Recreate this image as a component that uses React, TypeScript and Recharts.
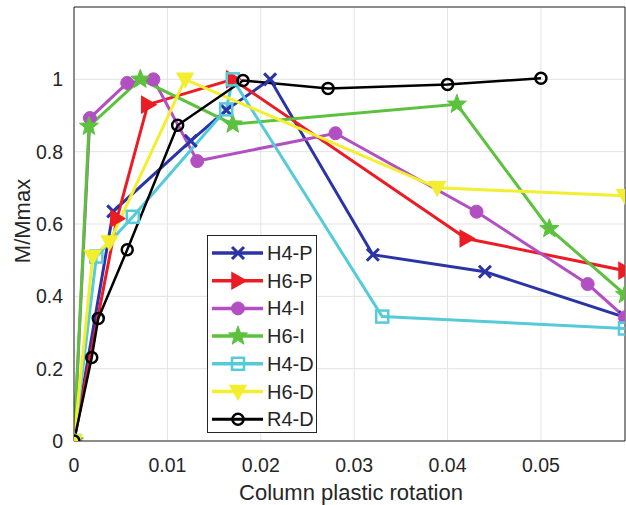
import React from "react";
import {
  CartesianGrid,
  Line,
  LineChart,
  ReferenceLine,
  XAxis,
  YAxis
} from "recharts";

// values
const h4pX = [0, 0.0042, 0.0125, 0.0163, 0.021, 0.032, 0.044, 0.059];
const h4pY = [0, 0.635, 0.83, 0.915, 1.0, 0.515, 0.468, 0.342];

const h6pX = [0, 0.0046, 0.0079, 0.017, 0.042, 0.059];
const h6pY = [0, 0.615, 0.93, 1.0, 0.56, 0.471];

const h4iX = [0, 0.0017, 0.0057, 0.0085, 0.0132, 0.028, 0.0431, 0.055, 0.059];
const h4iY = [0, 0.893, 0.99, 1.0, 0.774, 0.851, 0.634, 0.434, 0.342];

const h6iX = [0, 0.0016, 0.0071, 0.017, 0.041, 0.0509, 0.059];
const h6iY = [0, 0.87, 1.0, 0.876, 0.931, 0.587, 0.405];

const h4dX = [0, 0.0024, 0.0063, 0.0163, 0.017, 0.033, 0.059];
const h4dY = [0, 0.51, 0.62, 0.917, 1.0, 0.344, 0.311];

const h6dX = [0, 0.002, 0.0038, 0.0119, 0.0389, 0.059];
const h6dY = [0, 0.51, 0.55, 1.0, 0.7, 0.678];

const r4dX = [0, 0.0019, 0.0026, 0.0057, 0.0111, 0.0181, 0.0272, 0.04, 0.05];
const r4dY = [0, 0.231, 0.339, 0.529, 0.873, 0.997, 0.975, 0.986, 1.003];

const xTicks = [0, 0.01, 0.02, 0.03, 0.04, 0.05];
const yTicks = [0, 0.2, 0.4, 0.6, 0.8, 1];

type Kind = "x" | "tri-right" | "circle" | "star" | "square" | "tri-down" | "ocircle";

const series: { name: string; xs: number[]; ys: number[]; color: string; kind: Kind; width: number }[] = [
  { name: "H4-P", xs: h4pX, ys: h4pY, color: "#2b34a6", kind: "x", width: 3 },
  { name: "H6-P", xs: h6pX, ys: h6pY, color: "#ec1c24", kind: "tri-right", width: 3 },
  { name: "H4-I", xs: h4iX, ys: h4iY, color: "#b24fc2", kind: "circle", width: 3 },
  { name: "H6-I", xs: h6iX, ys: h6iY, color: "#5cc23e", kind: "star", width: 3 },
  { name: "H4-D", xs: h4dX, ys: h4dY, color: "#55cbd8", kind: "square", width: 3 },
  { name: "H6-D", xs: h6dX, ys: h6dY, color: "#f3ee2e", kind: "tri-down", width: 3 },
  { name: "R4-D", xs: r4dX, ys: r4dY, color: "#000000", kind: "ocircle", width: 2.5 }
];

const FONT = "'Liberation Sans', Arial, sans-serif";

function starPath(cx: number, cy: number, R: number, r: number) {
  let d = "";
  for (let i = 0; i < 10; i++) {
    const a = -Math.PI / 2 + (i * Math.PI) / 5;
    const rad = i % 2 === 0 ? R : r;
    d += (i === 0 ? "M" : "L") + (cx + rad * Math.cos(a)).toFixed(2) + "," + (cy + rad * Math.sin(a)).toFixed(2);
  }
  return d + "Z";
}

function Marker({ cx, cy, kind, color }: { cx: number; cy: number; kind: Kind; color: string }) {
  switch (kind) {
    case "x":
      return (
        <path d={`M${cx - 6},${cy - 6}L${cx + 6},${cy + 6}M${cx - 6},${cy + 6}L${cx + 6},${cy - 6}`} stroke={color} strokeWidth={3} />
      );
    case "tri-right":
      return <path d={`M${cx + 8},${cy}L${cx - 6},${cy - 8}L${cx - 6},${cy + 8}Z`} fill={color} stroke={color} strokeWidth={1.5} />;
    case "circle":
      return <circle cx={cx} cy={cy} r={6.5} fill={color} stroke={color} />;
    case "star":
      return <path d={starPath(cx, cy, 10, 4.2)} fill={color} stroke={color} strokeWidth={1} />;
    case "square":
      return <rect x={cx - 6} y={cy - 6} width={12} height={12} fill="none" stroke={color} strokeWidth={2.5} />;
    case "tri-down":
      return <path d={`M${cx},${cy + 8}L${cx - 8},${cy - 6}L${cx + 8},${cy - 6}Z`} fill={color} stroke={color} strokeWidth={1.5} />;
    case "ocircle":
      return <circle cx={cx} cy={cy} r={5.5} fill="none" stroke={color} strokeWidth={2.5} />;
  }
}

function makeDot(kind: Kind, color: string) {
  return (props: any) => {
    const { cx, cy, index } = props;
    if (cx == null || cy == null) return <g key={index} />;
    return (
      <g key={index}>
        <Marker cx={cx} cy={cy} kind={kind} color={color} />
      </g>
    );
  };
}

function Legend() {
  return (
    <div
      style={{
        position: "absolute",
        left: 207,
        top: 235,
        width: 110,
        height: 198,
        border: "1px solid #262626",
        background: "#fff",
        boxSizing: "border-box"
      }}
    >
      <svg width={108} height={196}>
        {series.map((s, i) => {
          const y = 17 + i * 27.7;
          return (
            <g key={s.name}>
              <line x1={4} x2={55} y1={y} y2={y} stroke={s.color} strokeWidth={s.width + 0.5} />
              <Marker cx={30} cy={y} kind={s.kind} color={s.color} />
              <text x={59} y={y + 7} fontSize={20} fontFamily={FONT} fill="#262626">
                {s.name}
              </text>
            </g>
          );
        })}
      </svg>
    </div>
  );
}

export default function App() {
  return (
    <div style={{ position: "absolute", left: 0, top: 0, width: 626, height: 505, background: "#fff" }}>
      <LineChart width={626} height={505} margin={{ top: 7, right: 1, bottom: 0, left: 0 }}>
        <CartesianGrid stroke="#e3e3e3" strokeWidth={1} />
        <XAxis
          type="number"
          dataKey="x"
          domain={[0, 0.059]}
          ticks={xTicks}
          allowDataOverflow
          height={64}
          tickSize={0}
          tickMargin={17}
          tick={{ fontSize: 19.5, fontFamily: FONT, fill: "#262626" }}
          stroke="#262626"
          tickFormatter={(v: number) => String(v)}
          label={{
            content: () => (
              <text x={351} y={500} textAnchor="middle" fontSize={22} fontFamily={FONT} fill="#262626">
                Column plastic rotation
              </text>
            )
          }}
        />
        <YAxis
          type="number"
          domain={[0, 1.2]}
          ticks={yTicks}
          allowDataOverflow
          width={74}
          tickSize={0}
          tickMargin={11}
          tick={{ fontSize: 19.5, fontFamily: FONT, fill: "#262626" }}
          stroke="#262626"
          tickFormatter={(v: number) => String(v)}
          label={{
            content: () => (
              <text
                x={30}
                y={221}
                textAnchor="middle"
                fontSize={22}
                fontFamily={FONT}
                fill="#262626"
                transform="rotate(-90 30 221)"
              >
                M/Mmax
              </text>
            )
          }}
        />
        <ReferenceLine y={1.2} stroke="#262626" />
        <ReferenceLine x={0.059} stroke="#262626" />
        {series.map((s) => (
          <Line
            key={s.name}
            name={s.name}
            data={s.xs.map((x, i) => ({ x, y: s.ys[i] }))}
            dataKey="y"
            type="linear"
            stroke={s.color}
            strokeWidth={s.width}
            dot={makeDot(s.kind, s.color)}
            activeDot={false}
            isAnimationActive={false}
          />
        ))}
      </LineChart>
      <Legend />
    </div>
  );
}
